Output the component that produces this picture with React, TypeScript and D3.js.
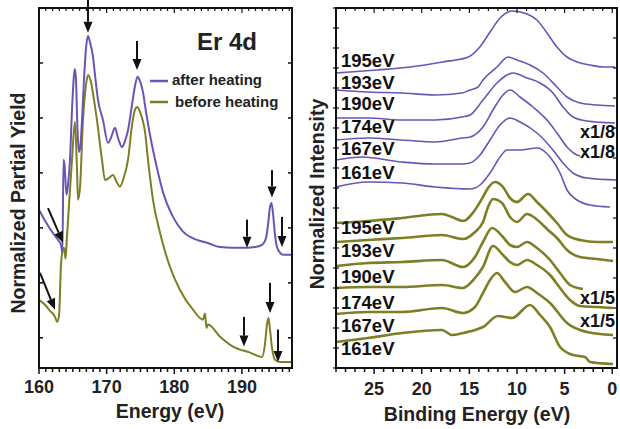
import { scaleLinear, line, curveMonotoneX, range } from 'd3';

const width = 620;
const height = 429;
const purple = '#6c54b6';
const olive = '#7e7e24';
const font = '"Liberation Sans", Arial, sans-serif';

// ---- left panel: partial yield vs photon energy ----
const energyAfter = [160.0, 160.89, 161.92, 162.81, 163.25, 163.47, 163.62, 163.77, 164.07, 164.29, 164.58, 164.88, 165.17, 165.32, 165.47, 165.69, 165.91, 166.13, 166.36, 166.65, 166.95, 167.24, 167.54, 167.98, 168.28, 168.72, 169.46, 170.2, 170.64, 171.23, 171.68, 172.27, 172.71, 173.16, 173.75, 174.19, 174.56, 174.93, 175.37, 175.82, 176.41, 177.44, 178.33, 179.81, 181.29, 183.36, 184.84, 186.76, 188.68, 190.75, 191.93, 192.96, 193.56, 193.85, 194.15, 194.37, 194.59, 194.89, 195.18, 195.62, 196.07, 197.4];
const yieldAfter = [2.33, 2.13, 1.93, 1.78, 1.69, 1.56, 3.24, 3.15, 2.6, 2.78, 3.24, 4.15, 4.78, 4.89, 4.69, 3.78, 3.38, 3.51, 3.96, 4.69, 5.27, 5.49, 5.38, 5.11, 4.78, 4.33, 3.96, 3.55, 3.64, 3.82, 3.64, 3.47, 3.58, 3.78, 4.24, 4.58, 4.75, 4.67, 4.47, 4.11, 3.69, 3.09, 2.65, 2.2, 1.93, 1.78, 1.73, 1.65, 1.64, 1.64, 1.65, 1.69, 1.82, 2.05, 2.38, 2.45, 2.27, 1.87, 1.65, 1.55, 1.51, 1.51];
const energyBefore = [160.0, 160.89, 161.63, 162.37, 162.66, 162.96, 163.25, 163.47, 163.7, 163.92, 164.14, 164.58, 164.88, 165.32, 165.62, 165.76, 166.06, 166.5, 166.95, 167.24, 167.69, 168.13, 168.57, 169.31, 169.76, 170.35, 170.94, 171.53, 171.97, 172.42, 173.16, 173.75, 174.19, 174.49, 174.93, 175.23, 175.67, 176.11, 176.85, 177.89, 179.36, 180.84, 182.76, 184.24, 184.54, 184.76, 184.98, 186.76, 188.68, 191.19, 192.96, 193.41, 193.7, 193.92, 194.15, 194.44, 194.89, 195.62, 197.4];
const yieldBefore = [0.69, 0.6, 0.49, 0.38, 0.29, 0.4, 1.33, 1.58, 1.64, 1.44, 1.85, 2.69, 3.24, 3.93, 3.05, 2.51, 2.73, 3.96, 4.6, 4.78, 4.65, 4.33, 3.96, 3.24, 2.87, 2.91, 2.96, 2.82, 2.75, 2.87, 3.24, 3.87, 4.15, 4.2, 4.11, 4.0, 3.75, 3.24, 2.51, 1.91, 1.29, 0.87, 0.51, 0.33, 0.44, 0.18, 0.24, 0.02, -0.16, -0.27, -0.35, -0.11, 0.24, 0.36, 0.15, -0.18, -0.4, -0.44, -0.44];
const energyTicks = [160, 170, 180, 190];
const yieldTicks = [0, 1, 2, 3, 4, 5, 6];
// arrows: [energy tail, yield tail, energy tip, yield tip]
const arrowsLeft = [
  [167.24, 6.15, 167.24, 5.55],
  [174.49, 5.4, 174.49, 4.87],
  [194.44, 3.05, 194.44, 2.55],
  [190.75, 2.15, 190.75, 1.64],
  [195.92, 2.2, 195.92, 1.65],
  [194.15, 1.0, 194.15, 0.45],
  [190.3, 0.38, 190.3, -0.16],
  [195.33, 0.15, 195.33, -0.44],
  [161.33, 2.36, 163.55, 1.73],
  [160.15, 1.18, 162.37, 0.51],
];

// ---- right panel: photoemission spectra (binding energy, intensity) ----
const after195 = [[29.0, 29.5], [24.7, 29.8], [21.2, 30.1], [17.8, 30.6], [15.1, 31.1], [13.9, 32.1], [12.83, 33.6], [11.78, 35.0], [10.94, 35.6], [10.52, 35.7], [8.95, 35.4], [7.9, 34.8], [6.85, 33.5], [5.8, 32.1], [4.75, 31.1], [3.7, 30.6], [2.33, 30.3], [0.97, 30.1], [-0.29, 30.1]];
const after193 = [[29.0, 27.8], [25.64, 27.6], [22.07, 27.5], [18.61, 27.3], [15.77, 27.5], [14.93, 27.8], [14.09, 28.1], [13.57, 28.8], [12.1, 30.1], [10.94, 31.1], [10.0, 30.8], [8.63, 30.3], [7.27, 29.5], [5.8, 28.1], [4.75, 27.1], [3.38, 26.5], [1.6, 26.3], [-0.29, 26.2]];
const after190 = [[29.0, 25.0], [25.64, 25.0], [22.07, 24.8], [18.61, 24.8], [15.77, 25.1], [14.93, 25.3], [13.57, 26.8], [12.1, 28.5], [11.05, 29.3], [10.42, 29.5], [8.95, 29.0], [7.58, 28.5], [6.22, 27.5], [5.17, 26.1], [4.12, 25.1], [2.65, 24.7], [-0.29, 24.5]];
const after174 = [[29.0, 22.8], [25.64, 23.0], [22.07, 22.8], [18.61, 22.6], [15.77, 23.0], [14.93, 23.1], [13.57, 24.1], [12.52, 25.8], [11.47, 27.3], [10.73, 27.8], [9.68, 27.1], [8.32, 26.1], [6.85, 24.8], [5.8, 23.5], [4.75, 22.1], [3.7, 21.3], [3.38, 21.2]];
const after167 = [[29.0, 20.8], [26.27, 21.1], [22.07, 20.6], [18.61, 20.4], [15.77, 20.4], [14.93, 20.5], [13.88, 21.3], [12.83, 22.8], [11.78, 24.3], [10.73, 25.0], [9.68, 24.6], [7.9, 23.5], [6.22, 21.8], [5.17, 20.5], [4.12, 19.5], [2.65, 19.0], [-0.5, 18.8]];
const after161 = [[29.0, 18.1], [25.64, 18.6], [22.07, 18.5], [18.61, 18.1], [14.93, 17.9], [13.88, 18.3], [12.83, 19.5], [11.78, 21.1], [11.05, 21.8], [9.68, 21.8], [7.9, 22.0], [6.53, 21.1], [5.48, 19.5], [4.75, 17.8], [3.7, 16.8], [2.33, 16.3], [0.24, 16.1]];
const before195 = [[29.0, 14.5], [25.64, 14.7], [22.07, 15.0], [17.87, 15.4], [16.82, 15.1], [15.67, 14.7], [14.41, 15.8], [13.57, 17.1], [13.04, 18.0], [12.31, 18.6], [11.47, 18.1], [10.73, 17.0], [10.0, 16.6], [8.84, 17.4], [7.9, 16.6], [6.85, 15.6], [5.8, 14.5], [4.75, 13.3], [3.38, 12.8], [1.6, 12.6], [-0.08, 12.6]];
const before193 = [[29.0, 12.6], [25.64, 12.8], [22.07, 13.0], [17.87, 13.3], [15.67, 12.9], [14.41, 13.6], [13.57, 14.6], [13.04, 16.1], [12.52, 16.9], [11.57, 16.5], [10.73, 15.1], [10.0, 14.6], [8.95, 15.4], [8.11, 15.0], [6.74, 13.8], [5.8, 13.0], [4.75, 11.8], [3.38, 11.1], [1.6, 10.9], [-0.08, 10.7]];
const before190 = [[29.0, 10.2], [25.64, 10.5], [22.07, 10.6], [17.87, 10.8], [15.67, 10.1], [14.41, 11.1], [13.57, 12.6], [12.62, 14.0], [11.47, 13.1], [10.73, 12.3], [10.0, 12.1], [8.95, 12.6], [7.9, 12.0], [6.53, 10.8], [5.48, 9.5], [4.43, 8.3], [3.07, 7.9]];
const before174 = [[29.0, 8.0], [25.64, 8.1], [22.07, 8.1], [17.87, 8.3], [15.67, 8.0], [14.41, 9.0], [13.57, 10.1], [12.52, 12.2], [11.47, 11.3], [10.73, 10.6], [10.0, 10.3], [8.95, 10.8], [7.9, 10.3], [6.53, 9.3], [5.48, 8.0], [4.43, 6.8], [3.38, 6.2], [1.6, 6.1], [-0.08, 6.0]];
const before167 = [[29.0, 5.4], [25.64, 5.6], [22.07, 5.6], [17.87, 6.0], [15.67, 5.5], [14.41, 6.1], [13.57, 7.5], [12.83, 8.8], [12.1, 9.5], [11.26, 8.6], [10.21, 7.6], [8.95, 8.1], [7.9, 7.5], [6.53, 6.5], [4.75, 4.5], [2.65, 3.6], [-0.08, 3.3]];
const before161 = [[29.0, 2.6], [25.64, 3.0], [22.07, 3.5], [17.87, 3.8], [16.82, 3.3], [15.67, 3.5], [14.41, 3.8], [13.57, 4.1], [11.99, 5.2], [10.52, 5.0], [8.63, 6.3], [7.58, 5.3], [6.53, 4.1], [5.48, 2.1], [4.12, 1.3], [2.86, 1.1], [2.33, 0.6], [-0.08, 0.4]];
const photonLabels = ['195eV', '193eV', '190eV', '174eV', '167eV', '161eV'];
const afterSpectra = [after195, after193, after190, after174, after167, after161];
const beforeSpectra = [before195, before193, before190, before174, before167, before161];
const afterLabelY = [30.1, 27.9, 25.8, 23.5, 21.3, 18.9];
const beforeLabelY = [13.4, 11.1, 8.5, 5.9, 3.6, 1.3];
const bindingTicks = [25, 20, 15, 10, 5, 0];

// scales
const xE = scaleLinear().domain([160, 197.4]).range([39, 292]);
const yL = scaleLinear().domain([-0.55, 6]).range([368, 8]);
const xB = scaleLinear().domain([29, -0.5]).range([336, 617]);
const yR = scaleLinear().domain([0, 36]).range([368, 8]);

const rightLine = line<number[]>().x((d) => xB(d[0])).y((d) => yR(d[1])).curve(curveMonotoneX);

const arrowPath = (x1: number, y1: number, x2: number, y2: number) => {
  const a = Math.atan2(y2 - y1, x2 - x1);
  const L = 11, w = 4.5;
  const bx = x2 - L * Math.cos(a), by = y2 - L * Math.sin(a);
  return {
    shaft: `M${x1},${y1}L${bx},${by}`,
    head: `M${x2},${y2}L${bx + w * Math.sin(a)},${by - w * Math.cos(a)}L${bx - w * Math.sin(a)},${by + w * Math.cos(a)}Z`,
  };
};

const App = () => {
  const pathAfter = line<number>().x((_, i) => xE(energyAfter[i])).y((d) => yL(d)).curve(curveMonotoneX)(yieldAfter);
  const pathBefore = line<number>().x((_, i) => xE(energyBefore[i])).y((d) => yL(d)).curve(curveMonotoneX)(yieldBefore);

  return (
    <svg width={width} height={height} style={{ position: 'absolute', left: 0, top: 0, background: '#fff' }} fontFamily={font} fontWeight="bold">
      {/* ===== left panel ===== */}
      <path d={pathBefore ?? ''} fill="none" stroke={olive} strokeWidth={2} strokeLinejoin="round" />
      <path d={pathAfter ?? ''} fill="none" stroke={purple} strokeWidth={2} strokeLinejoin="round" />
      {arrowsLeft.map((a, i) => {
        const p = arrowPath(xE(a[0]), yL(a[1]), xE(a[2]), yL(a[3]));
        return (
          <g key={i}>
            <path d={p.shaft} stroke="#111" strokeWidth={2} />
            <path d={p.head} fill="#111" />
          </g>
        );
      })}
      <rect x={39} y={8} width={253} height={360} fill="none" stroke="#111" strokeWidth={2} />
      {range(160, 198, 1).map((t) => (
        <g key={t}>
          <line x1={xE(t)} x2={xE(t)} y1={368} y2={energyTicks.includes(t) ? 374 : 372} stroke="#111" strokeWidth={1.5} />
          <line x1={xE(t)} x2={xE(t)} y1={8} y2={energyTicks.includes(t) ? 13 : 11} stroke="#111" strokeWidth={1.2} />
        </g>
      ))}
      {yieldTicks.map((t) => (
        <g key={t}>
          <line x1={39} x2={43} y1={yL(t)} y2={yL(t)} stroke="#111" strokeWidth={1.5} />
          <line x1={292} x2={288} y1={yL(t)} y2={yL(t)} stroke="#111" strokeWidth={1.5} />
        </g>
      ))}
      {energyTicks.map((t) => (
        <text key={t} x={xE(t)} y={393} fontSize={18} textAnchor="middle" fill="#222">{t}</text>
      ))}
      <text x={170} y={418} fontSize={19.5} textAnchor="middle" fill="#222">Energy (eV)</text>
      <text transform="translate(25,203) rotate(-90)" fontSize={19.5} textAnchor="middle" fill="#222">Normalized Partial Yield</text>
      <text x={197} y={50} fontSize={24} fill="#222">Er 4d</text>
      <line x1={150} x2={168} y1={81} y2={81} stroke={purple} strokeWidth={2.5} />
      <text x={172} y={85} fontSize={15} fill="#222">after heating</text>
      <line x1={150} x2={168} y1={102} y2={102} stroke={olive} strokeWidth={2.5} />
      <text x={175} y={107} fontSize={15} fill="#222">before heating</text>

      {/* ===== right panel ===== */}
      {afterSpectra.map((s, i) => (
        <path key={'a' + i} d={rightLine(s) ?? ''} fill="none" stroke={purple} strokeWidth={1.6} />
      ))}
      {beforeSpectra.map((s, i) => (
        <path key={'b' + i} d={rightLine(s) ?? ''} fill="none" stroke={olive} strokeWidth={2.6} />
      ))}
      {photonLabels.map((l, i) => (
        <g key={l + i}>
          <text x={341} y={yR(afterLabelY[i])} fontSize={18.5} fill="#111">{l}</text>
          <text x={341} y={yR(beforeLabelY[i])} fontSize={18.5} fill="#111">{l}</text>
        </g>
      ))}
      <text x={615} y={138} fontSize={18} textAnchor="end" fill="#111">x1/8</text>
      <text x={615} y={158} fontSize={18} textAnchor="end" fill="#111">x1/8</text>
      <text x={615} y={304} fontSize={18} textAnchor="end" fill="#111">x1/5</text>
      <text x={615} y={327} fontSize={18} textAnchor="end" fill="#111">x1/5</text>
      <rect x={336} y={8} width={281} height={360} fill="none" stroke="#111" strokeWidth={2} />
      {range(0, 30, 1).map((t) => (
        <g key={t}>
          <line x1={xB(t)} x2={xB(t)} y1={368} y2={bindingTicks.includes(t) ? 374 : 372} stroke="#111" strokeWidth={1.5} />
          <line x1={xB(t)} x2={xB(t)} y1={8} y2={bindingTicks.includes(t) ? 13 : 11} stroke="#111" strokeWidth={1.2} />
        </g>
      ))}
      {range(0, 37, 2).map((t) => (
        <line key={'l' + t} x1={333} x2={339} y1={yR(t)} y2={yR(t)} stroke="#111" strokeWidth={1.2} />
      ))}
      {range(0, 37, 3).map((t) => (
        <line key={'r' + t} x1={617} x2={613} y1={yR(t)} y2={yR(t)} stroke="#111" strokeWidth={1.2} />
      ))}
      {bindingTicks.map((t) => (
        <text key={t} x={xB(t)} y={395} fontSize={18} textAnchor="middle" fill="#222">{t}</text>
      ))}
      <text x={477} y={421} fontSize={19.5} textAnchor="middle" fill="#222">Binding Energy (eV)</text>
      <text transform="translate(324,194) rotate(-90)" fontSize={19.5} textAnchor="middle" fill="#222">Normalized Intensity</text>
    </svg>
  );
};

export default App;
